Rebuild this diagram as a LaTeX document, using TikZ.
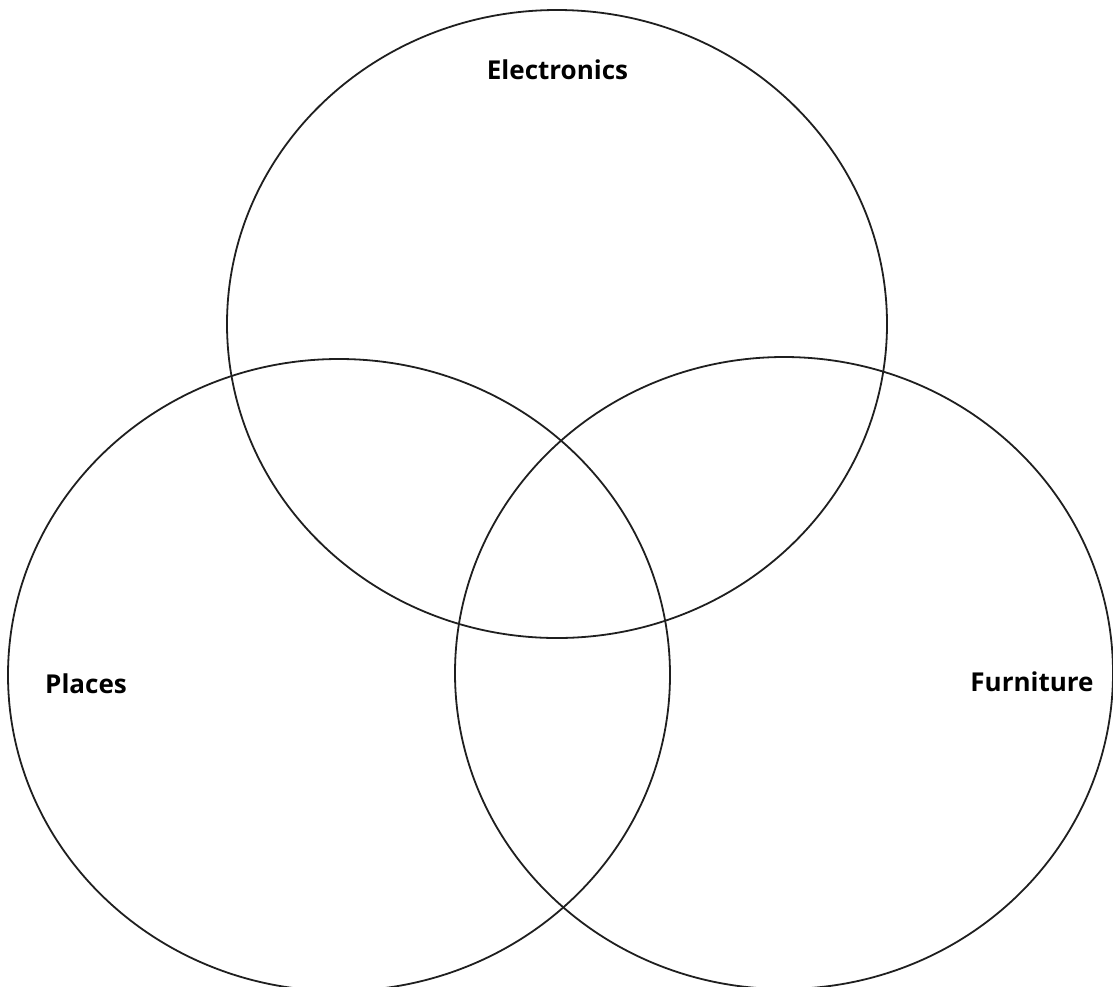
\documentclass[tikz,border=0pt]{standalone}
\usepackage{fontspec}
\setsansfont{Open Sans}
\usetikzlibrary{positioning}

\tikzset{
  setline/.style={line width=1.8pt, black!88},
  setlabel/.style={inner sep=0pt, anchor=base, font=\sffamily\bfseries\fontsize{26}{30}\selectfont}
}

\begin{document}
\begin{tikzpicture}[x=1pt, y=-1pt]
  \useasboundingbox (0,0) rectangle (1113,986);

  \coordinate (elecC) at (557, 324);
  \coordinate (placC) at (339, 675);
  \coordinate (furnC) at (784, 673);

  \draw [setline] (elecC) ellipse [x radius=330pt, y radius=314pt];
  \draw [setline] (placC) ellipse [x radius=331pt, y radius=316pt];
  \draw [setline] (furnC) ellipse [x radius=329pt, y radius=316pt];

  \node [setlabel] (elec) at (557.5, 79) {Electronics};
  \node [setlabel] (plac) at (86, 693) {Places};
  \node [setlabel] (furn) at (1032, 691) {Furniture};
\end{tikzpicture}
\end{document}
